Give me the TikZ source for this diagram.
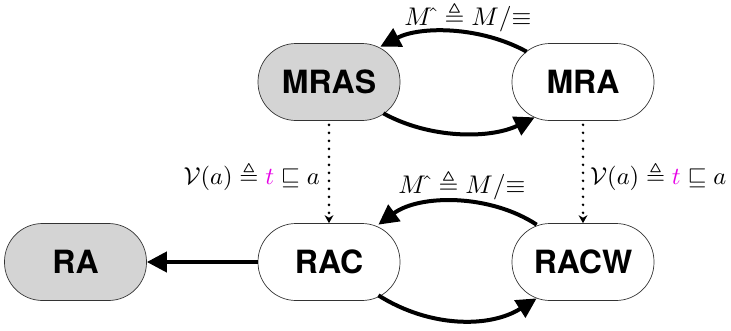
\documentclass[tikz,border=0pt]{standalone}
\usepackage{amsmath,amssymb}
\usepackage{graphicx}
\usepackage{fontspec}
\newfontfamily\nodefont{TeX Gyre Heros}
\usetikzlibrary{arrows.meta}
\definecolor{nodegray}{gray}{0.83}
\definecolor{tmag}{RGB}{230,0,230}
\tikzset{
  statebox/.style={draw=black!80, line width=0.7pt, rounded corners=38pt,
    minimum width=142pt, minimum height=77pt, inner sep=0pt,
    font=\nodefont\bfseries\fontsize{32}{32}\selectfont},
  grayfill/.style={fill=nodegray},
  bigarrow/.style={line width=4pt, -{Triangle[length=20pt,width=20pt]}},
  dotarrow/.style={line width=2.8pt, dash pattern=on 0pt off 8pt, line cap=round,
    -{Stealth[length=8pt,width=9pt,line width=0pt]}},
  lbl/.style={inner sep=0pt}
}
\newcommand{\quotlbl}{\scalebox{2.55}{$M\kern0.5pt\hat{}\,\triangleq M/{\equiv}$}}
\newcommand{\vlbl}{\scalebox{2.45}{$\mathcal{V}(a)\triangleq{\color{tmag}t}\sqsubseteq a$}}
\begin{document}
\begin{tikzpicture}[x=1pt,y=-1pt]
\useasboundingbox (0,0) rectangle (731,330);
\node[statebox,grayfill] (mras) at (329,82) {MRAS};
\node[statebox] (mra) at (583,82) {MRA};
\node[statebox] (rac) at (329,262) {RAC};
\node[statebox] (racw) at (583,262) {RACW};
\node[statebox,grayfill] (ra) at (75.5,262) {RA};

\node[lbl] (q1) at (468,17) {\quotlbl};
\node[lbl] (q2) at (462,185) {\quotlbl};
\node[lbl,anchor=east] (v1) at (320,176) {\vlbl};
\node[lbl,anchor=west] (v2) at (590,176) {\vlbl};

\draw[bigarrow] ([shift={(15,8.5)}]mra.north west)
  .. controls (480,26) and (420,26) .. ([shift={(-20,3.5)}]mras.north east);
\draw[bigarrow] ([shift={(-17,-7.5)}]mras.south east)
  .. controls (430,139) and (490,139) .. ([shift={(23,-3.5)}]mra.south west);
\draw[bigarrow] ([shift={(25,1.5)}]racw.north west)
  .. controls (490,194) and (420,194) .. ([shift={(-22,1.5)}]rac.north east);
\draw[bigarrow] ([shift={(-22,-5.5)}]rac.south east)
  .. controls (430,328) and (490,328) .. ([shift={(25,-2.5)}]racw.south west);
\draw[bigarrow] (rac.west) -- (ra.east);

\draw[dotarrow] ([shift={(0,4)}]mras.south) -- (rac.north);
\draw[dotarrow] ([shift={(0,4)}]mra.south) -- (racw.north);
\end{tikzpicture}
\end{document}
